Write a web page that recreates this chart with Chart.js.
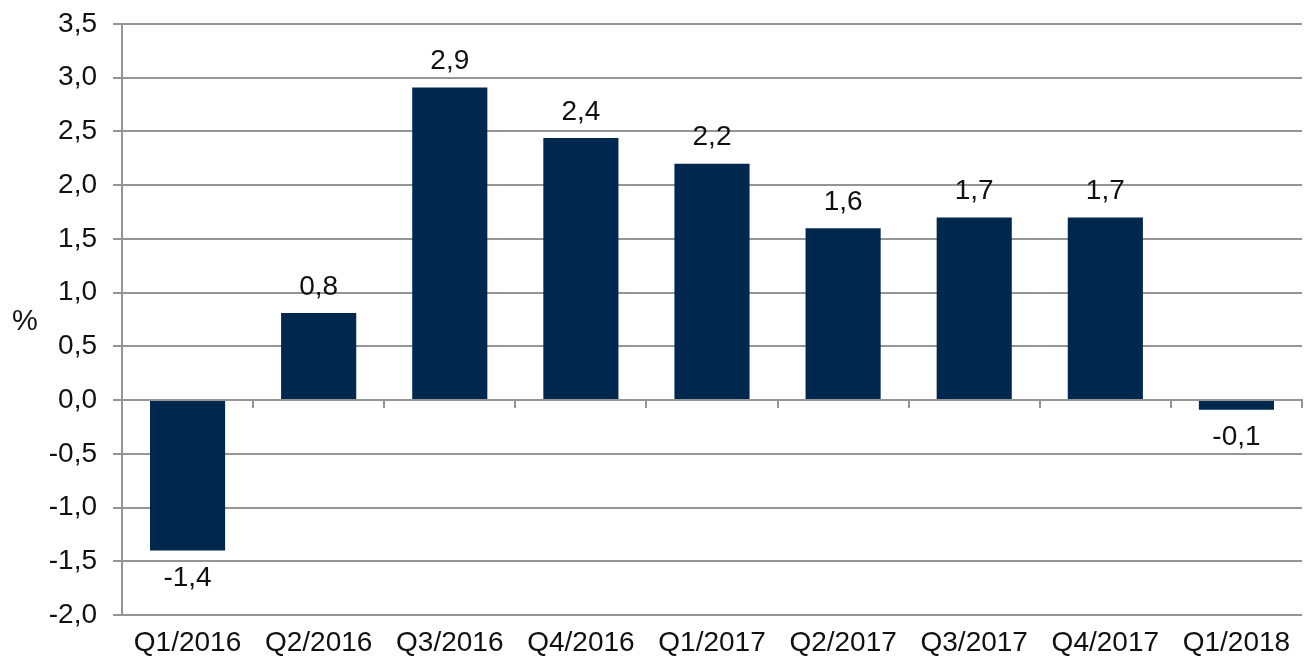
<!DOCTYPE html>
<html>
<head>
<meta charset="utf-8">
<script src="https://cdn.jsdelivr.net/npm/chart.js@4/dist/chart.umd.min.js"></script>
<style>
  html, body { margin: 0; padding: 0; background: #ffffff; }
  #wrap { width: 1309px; height: 660px; position: relative; }
</style>
</head>
<body>
<div id="wrap"><canvas id="c"></canvas></div>
<script>
const categories = ['Q1/2016', 'Q2/2016', 'Q3/2016', 'Q4/2016', 'Q1/2017', 'Q2/2017', 'Q3/2017', 'Q4/2017', 'Q1/2018'];
const values = [-1.4, 0.81, 2.91, 2.44, 2.2, 1.6, 1.7, 1.7, -0.09];
const yTickMin = -2.0;
const yTickMax = 3.5;
const yTickStep = 0.5;
const yAxisTitle = '%';

const fontFamily = '"Liberation Sans", Arial, sans-serif';
const gridColor = '#959595';
const barColor = '#00284e';
const textColor = '#111111';

function fmt(v) { return v.toFixed(1).replace('.', ','); }

const labelPlugin = {
  id: 'valueLabels',
  afterDatasetsDraw(chart) {
    const ctx = chart.ctx;
    const meta = chart.getDatasetMeta(0);
    ctx.save();
    ctx.font = '28px ' + fontFamily;
    ctx.fillStyle = textColor;
    ctx.textAlign = 'center';
    ctx.textBaseline = 'middle';
    meta.data.forEach((el, i) => {
      const v = values[i];
      const y = v >= 0 ? el.y - 26 : el.y + 28;
      ctx.fillText(fmt(v), el.x, y);
    });
    ctx.restore();
  }
};

const titlePlugin = {
  id: 'yTitle',
  afterDraw(chart) {
    const ctx = chart.ctx;
    const a = chart.chartArea;
    ctx.save();
    ctx.font = '29px ' + fontFamily;
    ctx.fillStyle = textColor;
    ctx.textAlign = 'center';
    ctx.textBaseline = 'middle';
    ctx.fillText(yAxisTitle, 25, (a.top + a.bottom) / 2 + 2);
    ctx.restore();
  }
};

new Chart(document.getElementById('c'), {
  type: 'bar',
  data: {
    labels: categories,
    datasets: [{
      data: values,
      backgroundColor: barColor,
      borderWidth: 0,
      barPercentage: 0.573,
      categoryPercentage: 1.0,
      xAxisID: 'x',
      yAxisID: 'y'
    }]
  },
  options: {
    responsive: true,
    maintainAspectRatio: false,
    animation: false,
    layout: { padding: { top: 24, right: 7, bottom: 0, left: 0 } },
    plugins: { legend: { display: false }, tooltip: { enabled: false } },
    scales: {
      x: {
        type: 'category',
        position: 'bottom',
        offset: true,
        afterFit(scale) { scale.height = 45; scale.paddingLeft = 0; scale.paddingRight = 0; },
        grid: { display: false, drawTicks: false },
        border: { display: false },
        ticks: { color: textColor, font: { family: fontFamily, size: 28 }, padding: 11, maxRotation: 0, autoSkip: false }
      },
      x0: {
        type: 'category',
        position: { y: 0 },
        offset: true,
        z: 1,
        afterFit(scale) { scale.height = 0; scale.paddingLeft = 0; scale.paddingRight = 0; },
        grid: { offset: true, drawOnChartArea: false, drawTicks: true, tickLength: 7, lineWidth: 2, color: gridColor },
        border: { display: true, width: 2, color: gridColor },
        ticks: { display: false }
      },
      y: {
        min: yTickMin,
        max: yTickMax,
        afterFit(scale) { scale.width = 122; scale.paddingTop = 0; scale.paddingBottom = 0; },
        grid: { color: gridColor, lineWidth: 2, tickLength: 9 },
        border: { display: true, width: 2, color: gridColor },
        ticks: {
          stepSize: yTickStep,
          color: textColor,
          padding: 16,
          font: { family: fontFamily, size: 28 },
          callback: (v) => fmt(Number(v))
        }
      }
    }
  },
  plugins: [labelPlugin, titlePlugin]
});
</script>
</body>
</html>
